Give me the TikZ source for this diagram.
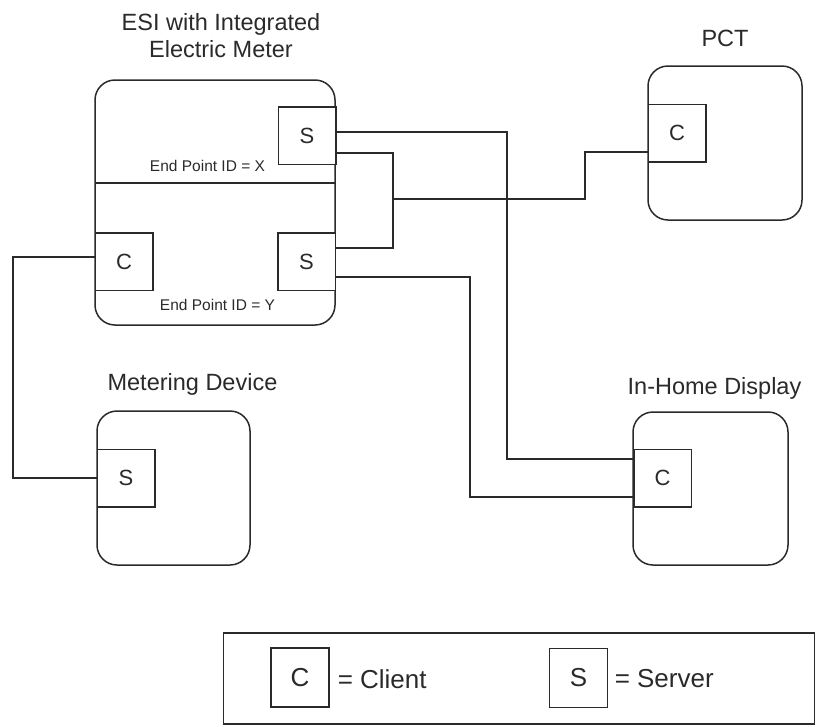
\documentclass[tikz,border=0pt]{standalone}
\usepackage{fontspec}
\setmainfont{Liberation Sans}
\definecolor{ink}{HTML}{2A2A2A}
\begin{document}
\begin{tikzpicture}[x=1pt,y=-1pt,line width=1.5pt,draw=ink,text=ink,
  device/.style={draw,rounded corners=20pt,inner sep=0pt},
  port/.style={draw,fill=white,minimum width=57.5pt,minimum height=57.5pt,inner sep=0pt,font=\fontsize{22}{26}\selectfont},
  legport/.style={draw,fill=white,minimum width=58pt,minimum height=59pt,inner sep=0pt,font=\fontsize{26}{30}\selectfont},
  title/.style={anchor=base,inner sep=0pt,font=\fontsize{23.5}{28}\selectfont},
  eplabel/.style={anchor=base,inner sep=0pt,font=\fontsize{15.5}{18}\selectfont},
  legtext/.style={anchor=west,inner sep=0pt,font=\fontsize{26}{30}\selectfont},
  wire/.style={draw=ink,line width=1.5pt}]
\useasboundingbox (0,0) rectangle (816,726);

% titles
\node[title] (t1) at (221,30) {ESI with Integrated};
\node[title] (t2) at (221,57) {Electric Meter};
\node[title] (tpct) at (725,46.5) {PCT};
\node[title] (tmet) at (192.5,390) {Metering Device};
\node[title] (tihd) at (714.5,394) {In-Home Display};

% devices
\node[device,minimum width=240pt,minimum height=245pt] (esi) at (215,202.5) {};
\node[device,minimum width=154pt,minimum height=154pt] (pct) at (725,143) {};
\node[device,minimum width=153pt,minimum height=154pt] (met) at (173.5,488) {};
\node[device,minimum width=155pt,minimum height=153pt] (ihd) at (710.5,488.5) {};

% divider in ESI
\coordinate (dl) at (95,183);
\coordinate (dr) at (335,183);
\draw (dl) -- (dr);

% ports
\node[port] (S1) at (307,135.5) {S};
\node[port] (C1) at (124,261.5) {C};
\node[port] (S2) at (306.5,261.5) {S};
\node[port] (pctC) at (677,133) {C};
\node[port] (metS) at (126,478) {S};
\node[port] (ihdC) at (662.5,478) {C};

\node[eplabel] (epx) at (207.5,171) {End Point ID = X};
\node[eplabel] (epy) at (217.5,310) {End Point ID = Y};

% connectors
\draw[wire] (S1.east |- 0,132) -- (507,132) -- (507,459) -- (ihdC.west |- 0,459);
\draw[wire] (S1.east |- 0,153) -- (393,153) -- (393,248) -- (S2.east |- 0,248);
\draw[wire] (393,199) -- (585,199) -- (585,152) -- (pctC.west |- 0,152);
\draw[wire] (S2.east |- 0,277) -- (470,277) -- (470,497) -- (ihdC.west |- 0,497);
\draw[wire] (C1.west |- 0,257) -- (13,257) -- (13,478) -- (metS.west);

% legend
\node[draw,minimum width=591pt,minimum height=91pt,inner sep=0pt] (leg) at (518.75,678.5) {};
\node[legport] (legC) at (300,677.5) {C};
\node[legtext] (legCt) at (337,679) {= Client};
\node[legport] (legS) at (578.5,678) {S};
\node[legtext] (legSt) at (614,679) {= Server};
\end{tikzpicture}
\end{document}
